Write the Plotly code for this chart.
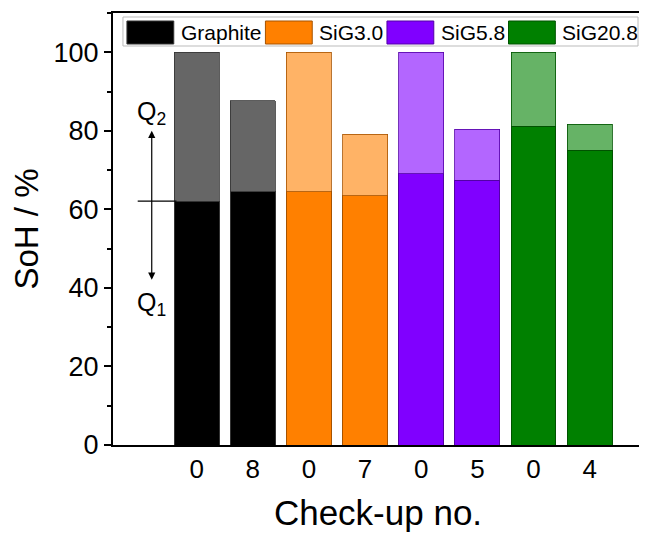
import plotly.graph_objects as go

# ---- data ----
groups = ["Graphite", "SiG3.0", "SiG5.8", "SiG20.8"]
checkups = ["0", "8", "0", "7", "0", "5", "0", "4"]
q1 = [62.1, 64.5, 64.5, 63.5, 69.1, 67.4, 81.2, 75.0]
soh_total = [100.0, 87.6, 100.0, 79.1, 100.0, 80.4, 100.0, 81.7]
q2 = [t - a for t, a in zip(soh_total, q1)]
group_of_bar = [0, 0, 1, 1, 2, 2, 3, 3]

dark_colors = ["#000000", "#FF8000", "#8000FF", "#008000"]
light_colors = ["#666666", "#FFB366", "#B366FF", "#66B366"]
edge_colors = ["#333333", "#A65300", "#5300A6", "#005300"]

positions = list(range(1, len(checkups) + 1))

FONT = "Arial, Liberation Sans, sans-serif"
OFF = 8  # page body margin
W, H = 647 - OFF, 533 - OFF
L, R, T, B = 113 - OFF, 2, 13 - OFF, 88
plot_w = W - L - R
plot_h = H - T - B

def px(xp):
    # xp given in page pixels
    return (xp - OFF - L) / plot_w

def py(yp):
    return (H - B - (yp - OFF)) / plot_h

fig = go.Figure()
fig.add_trace(go.Bar(
    x=positions, y=q1, width=0.8,
    marker=dict(color=[dark_colors[g] for g in group_of_bar],
                line=dict(color=[edge_colors[g] for g in group_of_bar], width=1)),
    showlegend=False, name="Q1"))
fig.add_trace(go.Bar(
    x=positions, y=q2, width=0.8,
    marker=dict(color=[light_colors[g] for g in group_of_bar],
                line=dict(color=[edge_colors[g] for g in group_of_bar], width=0.8)),
    showlegend=False, name="Q2"))

fig.update_layout(
    barmode="stack",
    width=W, height=H,
    margin=dict(l=L, r=R, t=T, b=B, pad=0),
    plot_bgcolor="white", paper_bgcolor="white",
    font=dict(family=FONT, color="black"),
    showlegend=False,
)
fig.update_xaxes(
    range=[-0.49, 8.95],
    tickvals=positions, ticktext=checkups,
    ticks="", 
    tickfont=dict(size=26, family=FONT),
    showline=True, linecolor="black", linewidth=2, mirror=True,
    showgrid=False, zeroline=False,
    title=dict(text="Check-up no.", font=dict(size=35, family=FONT), standoff=17),
)
fig.update_yaxes(
    range=[0, 110],
    tickvals=[0, 20, 40, 60, 80, 100],
    ticks="outside", ticklen=7, tickwidth=2, tickcolor="black",
    minor=dict(dtick=10, ticks="outside", ticklen=4, tickwidth=2, tickcolor="black"),
    tickfont=dict(size=27, family=FONT),
    showline=True, linecolor="black", linewidth=2, mirror=True,
    showgrid=False, zeroline=False,
    title=dict(text="SoH / %", font=dict(size=33, family=FONT), standoff=10),
)

# Q1/Q2 arrow annotation
fig.add_annotation(x=0.2, y=80, ax=0.2, ay=41.7, xref="x", yref="y", axref="x", ayref="y",
                   text="", showarrow=True, arrowhead=2, arrowside="end+start",
                   arrowsize=1.2, arrowwidth=1.2, arrowcolor="black")
fig.add_shape(type="line", xref="x", yref="y", x0=-0.05, x1=0.64, y0=q1[0], y1=q1[0],
              line=dict(color="black", width=1.2))
fig.add_annotation(x=0.2, y=84.5, xref="x", yref="y", text="Q<sub>2</sub>", showarrow=False,
                   font=dict(size=25, family=FONT))
fig.add_annotation(x=0.2, y=36, xref="x", yref="y", text="Q<sub>1</sub>", showarrow=False,
                   font=dict(size=25, family=FONT))

# Manual legend (wide swatches)
fig.add_shape(type="rect", xref="paper", yref="paper",
              x0=px(123), x1=px(640), y0=py(46), y1=py(17),
              line=dict(color="#BBBBBB", width=1), fillcolor="white", layer="above")
swatch_left = [127, 266, 388, 510]
for i, name in enumerate(groups):
    x0 = swatch_left[i]
    fig.add_shape(type="rect", xref="paper", yref="paper",
                  x0=px(x0), x1=px(x0 + 47), y0=py(44), y1=py(21),
                  line=dict(color=edge_colors[i], width=1), fillcolor=dark_colors[i], layer="above")
    fig.add_annotation(x=px(x0 + 52), y=py(32.5), xref="paper", yref="paper",
                       text=name, showarrow=False, xanchor="left", yanchor="middle",
                       font=dict(size=21, family=FONT))

fig.write_html("out.html")
